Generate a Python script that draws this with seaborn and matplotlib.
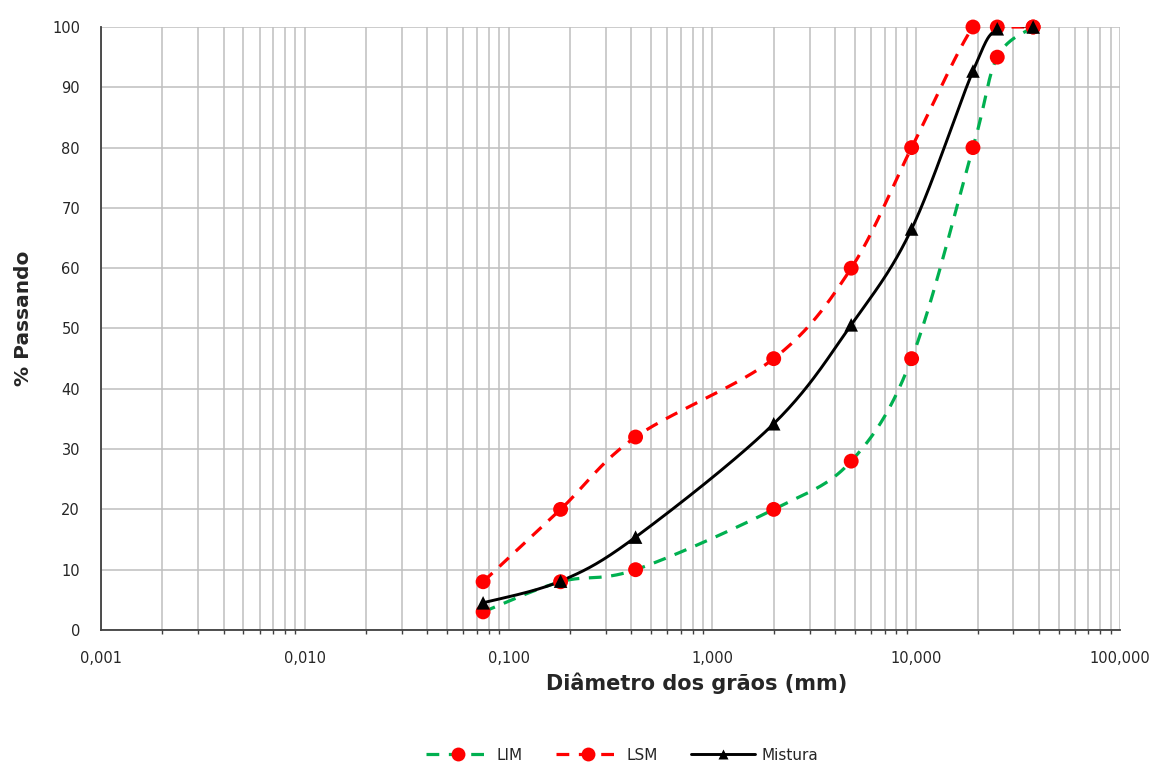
import numpy as np
import pandas as pd
import matplotlib
matplotlib.use("Agg")
import matplotlib.pyplot as plt
import seaborn as sns
from matplotlib.lines import Line2D
from matplotlib.ticker import FixedLocator, LogLocator, FuncFormatter, NullFormatter

# Aberturas das peneiras (mm) e porcentagens passantes
peneiras = [0.075, 0.18, 0.42, 2.0, 4.8, 9.5, 19.0, 25.0, 37.5]
lim = [3, 8, 10, 20, 28, 45, 80, 95, 100]
lsm = [8, 20, 32, 45, 60, 80, 100, 100, 100]
mistura = [4.5, 8.1, 15.4, 34.2, 50.6, 66.5, 92.7, 99.7, 100]

x_ticks = [0.001, 0.01, 0.1, 1, 10, 100]
y_ticks = list(range(0, 101, 10))


def suavizar(x, y, n=40):
    """Curva suavizada (Bezier tipo Catmull-Rom) no espaco log(x)-y."""
    P = np.column_stack([np.log10(x), np.asarray(y, float)])
    P = np.vstack([P[0], P, P[-1]])
    partes = []
    t = np.linspace(0, 1, n, endpoint=False)[:, None]
    for i in range(1, len(P) - 2):
        p0, p1, p2, p3 = P[i - 1], P[i], P[i + 1], P[i + 2]
        c1 = p1 + (p2 - p0) / 6
        c2 = p2 - (p3 - p1) / 6
        seg = ((1 - t) ** 3) * p1 + 3 * ((1 - t) ** 2) * t * c1 \
            + 3 * (1 - t) * t ** 2 * c2 + t ** 3 * p2
        partes.append(seg)
    partes.append(P[-2][None])
    pts = np.vstack(partes)
    return pd.DataFrame({"d": 10 ** pts[:, 0], "p": pts[:, 1]})


sns.set_style("white")
plt.rcParams["font.family"] = ["DejaVu Sans"]

verde = "#00B050"
vermelho = "#FF0000"
texto = "#262626"

fig = plt.figure(figsize=(11.63, 7.65), dpi=100)
ax = fig.add_axes([0.0868, 0.1765, 0.8762, 0.7882])
ax.set_xscale("log")
ax.set_xlim(0.001, 100)
ax.set_ylim(0, 100)

# Grade
ax.xaxis.set_major_locator(FixedLocator(x_ticks))
ax.xaxis.set_minor_locator(LogLocator(base=10, subs=np.arange(2, 10), numticks=50))
ax.xaxis.set_minor_formatter(NullFormatter())
ax.xaxis.set_major_formatter(FuncFormatter(lambda v, _: f"{v:.3f}".replace(".", ",")))
ax.yaxis.set_major_locator(FixedLocator(y_ticks))
ax.grid(True, which="both", axis="x", color="#BFBFBF", lw=1.1)
ax.grid(True, which="major", axis="y", color="#BFBFBF", lw=1.1)
ax.set_axisbelow(True)

for s in ["top", "right"]:
    ax.spines[s].set_visible(False)
for s in ["left", "bottom"]:
    ax.spines[s].set_color("#404040")
    ax.spines[s].set_linewidth(1.3)

ax.tick_params(axis="both", which="major", direction="out", length=5, width=1,
               color="#404040", labelsize=10.5, labelcolor=texto)
ax.tick_params(axis="x", which="minor", direction="out", length=3, width=1,
               color="#404040", bottom=True)
ax.tick_params(axis="x", which="major", pad=10)
ax.tick_params(axis="y", which="major", pad=10)

# Curvas suavizadas
c_lim = suavizar(peneiras, lim)
c_lsm = suavizar(peneiras, lsm)
c_mis = suavizar(peneiras, mistura)
sns.lineplot(data=c_lim, x="d", y="p", ax=ax, sort=False, estimator=None,
             color=verde, lw=2.3, linestyle=(0, (4, 3)))
sns.lineplot(data=c_lsm, x="d", y="p", ax=ax, sort=False, estimator=None,
             color=vermelho, lw=2.3, linestyle=(0, (4, 3)))
sns.lineplot(data=c_mis, x="d", y="p", ax=ax, sort=False, estimator=None,
             color="black", lw=2.1)

# Marcadores
pts = pd.DataFrame({"d": peneiras, "lim": lim, "lsm": lsm, "mis": mistura})
for col in ["lim", "lsm"]:
    sns.scatterplot(data=pts, x="d", y=col, ax=ax, color=vermelho, s=115,
                    marker="o", edgecolor="none", clip_on=False, zorder=5)
sns.scatterplot(data=pts, x="d", y="mis", ax=ax, color="black", s=95,
                marker="^", edgecolor="none", clip_on=False, zorder=6)

ax.set_xlabel("Diâmetro dos grãos (mm)", fontsize=15, fontweight="bold",
              color=texto)
ax.set_ylabel("% Passando", fontsize=14.5, fontweight="bold", color=texto)
ax.xaxis.set_label_coords(0.585, -0.070)
ax.yaxis.set_label_coords(-0.0667, 0.517)

handles = [
    Line2D([], [], color=verde, lw=2.3, linestyle=(0, (4, 3)), marker="o",
           markersize=10, markerfacecolor=vermelho, markeredgecolor="none"),
    Line2D([], [], color=vermelho, lw=2.3, linestyle=(0, (4, 3)), marker="o",
           markersize=10, markerfacecolor=vermelho, markeredgecolor="none"),
    Line2D([], [], color="black", lw=2.1, marker="^", markersize=7,
           markerfacecolor="black", markeredgecolor="none"),
]
fig.legend(handles, ["LIM", "LSM", "Mistura"], loc="center",
           bbox_to_anchor=(0.535, 0.013), ncol=3, frameon=False,
           fontsize=11, handlelength=4.2, columnspacing=2.2,
           handletextpad=0.4, labelcolor=texto)

fig.savefig("out.png", dpi=100)
